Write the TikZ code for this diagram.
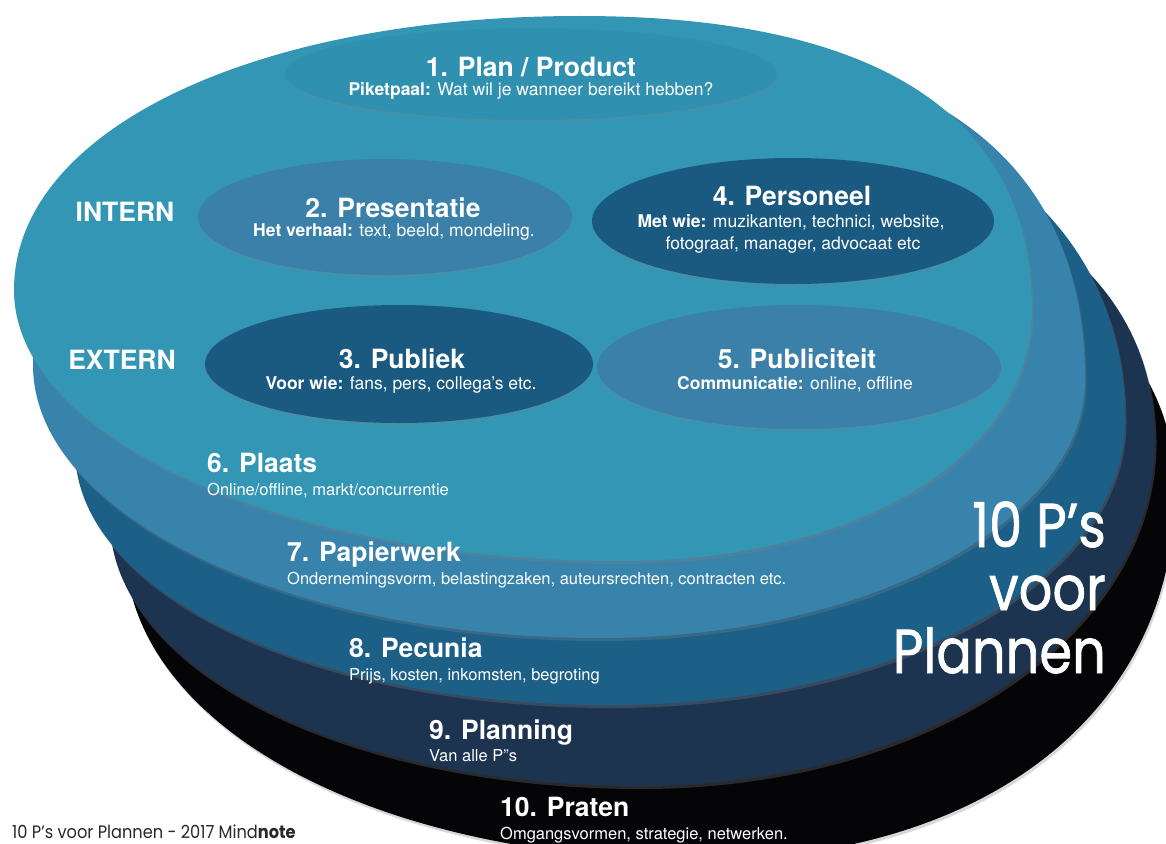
\documentclass[tikz,border=0pt]{standalone}
\usepackage{fontspec}
\setmainfont{TeX Gyre Heros}
\newfontfamily\futura{Poppins}
\newfontfamily\futurabig{Poppins}[FakeBold=1.2]
\usetikzlibrary{shapes.geometric,shadows}
\definecolor{layA}{RGB}{52,150,181}
\definecolor{layB}{RGB}{56,131,172}
\definecolor{layC}{RGB}{28,96,136}
\definecolor{layD}{RGB}{29,52,80}
\definecolor{layE}{RGB}{5,5,8}
\definecolor{midblob}{RGB}{58,128,169}
\definecolor{darkblob}{RGB}{26,90,128}
\definecolor{topblob}{RGB}{48,144,176}
\definecolor{foot}{RGB}{40,40,40}
\tikzset{
  layer/.style={draw=none, drop shadow={opacity=0.3, shadow xshift=1.5pt, shadow yshift=-3pt}},
  blob/.style={ellipse, draw=none, inner sep=0, drop shadow={opacity=0.25, shadow xshift=0pt, shadow yshift=-2pt}},
  ttl/.style={text=white, font=\bfseries\fontsize{26.5}{30}\selectfont, inner sep=0},
  isub/.style={text=white, font=\fontsize{17.5}{22}\selectfont, inner sep=0},
  osub/.style={text=white, font=\fontsize{16.5}{20}\selectfont, inner sep=0},
  side/.style={text=white, font=\bfseries\fontsize{26.5}{30}\selectfont, inner sep=0},
  big/.style={text=white, font=\futurabig\fontsize{62}{63}\selectfont, inner sep=0},
}
\begin{document}
\begin{tikzpicture}[x=1pt,y=-1pt]
\useasboundingbox (0,0) rectangle (1166,843);
\fill[white] (0,0) rectangle (1166,843);
\begin{scope}
\clip (0,0) rectangle (1166,843);
% stacked layers (bottom to top)
\fill[layE, layer] (125,545) .. controls (125,366.3) and (406.3,220) .. (750,220)
  .. controls (1013.5,220) and (1175,322.6) .. (1175,490)
  .. controls (1175,712) and (985,860) .. (700,860)
  .. controls (372.2,860) and (125,724.6) .. (125,545) -- cycle;
\fill[layD, layer] (110,520) .. controls (110,312.8) and (369.6,150) .. (700,150)
  .. controls (982.1,150) and (1155,260.2) .. (1155,440)
  .. controls (1155,633.8) and (928.4,786) .. (640,786)
  .. controls (343.2,786) and (110,669) .. (110,520) -- cycle;
\fill[layC, layer] (75,450) .. controls (75,242.8) and (328,80) .. (650,80)
  .. controls (944.5,80) and (1125,209.2) .. (1125,420)
  .. controls (1125,579.6) and (898.4,705) .. (610,705)
  .. controls (310.4,705) and (75,592.8) .. (75,450) -- cycle;
\fill[layB, layer] (33,365) .. controls (33,186.2) and (297.1,40) .. (620,40)
  .. controls (926.9,40) and (1085,155.6) .. (1085,380)
  .. controls (1085,521.9) and (866.8,638) .. (600,638)
  .. controls (288.1,638) and (33,515.2) .. (33,365) -- cycle;
\fill[layA, layer] (14,290) .. controls (14,131.1) and (251.7,16) .. (580,16)
  .. controls (878.3,16) and (1032,116) .. (1032,310)
  .. controls (1032,455.6) and (859,561) .. (620,561)
  .. controls (286.7,561) and (14,439) .. (14,290) -- cycle;
\end{scope}
% inner ellipses
\node[blob, fill=topblob, minimum width=492pt, minimum height=92pt] (e1) at (531,74) {};
\node[blob, fill=midblob, minimum width=374pt, minimum height=116pt] (e2) at (385,217) {};
\node[blob, fill=darkblob, minimum width=402pt, minimum height=126pt] (e4) at (793,221) {};
\node[blob, fill=darkblob, minimum width=388pt, minimum height=118pt] (e3) at (399,364) {};
\node[blob, fill=midblob, minimum width=404pt, minimum height=124pt] (e5) at (799,367) {};
% texts
\node[ttl, anchor=base] (t1) at (531,76) {1. Plan / Product};
\node[isub, anchor=base] (s1) at (531,95) {\textbf{Piketpaal:} Wat wil je wanneer bereikt hebben?};
\node[side, anchor=base] (intern) at (125,221) {INTERN};
\node[side, anchor=base] (extern) at (122,369) {EXTERN};
\node[ttl, anchor=base] (t2) at (393,217) {2. Presentatie};
\node[isub, anchor=base] (s2) at (394,236) {\textbf{Het verhaal:} text, beeld, mondeling.};
\node[ttl, anchor=base] (t4) at (792,205) {4. Personeel};
\node[isub, anchor=base] (s4a) at (791,227) {\textbf{Met wie:} muzikanten, technici, website,};
\node[isub, anchor=base] (s4b) at (793,249) {fotograaf, manager, advocaat etc};
\node[ttl, anchor=base] (t3) at (402,368) {3. Publiek};
\node[isub, anchor=base] (s3) at (401,389) {\textbf{Voor wie:} fans, pers, collega’s etc.};
\node[ttl, anchor=base] (t5) at (797,368) {5. Publiciteit};
\node[isub, anchor=base] (s5) at (795,389) {\textbf{Communicatie:} online, offline};
\node[ttl, anchor=base west] (t6) at (207,472) {6. Plaats};
\node[osub, anchor=base west] (s6) at (207,495) {Online/offline, markt/concurrentie};
\node[ttl, anchor=base west] (t7) at (287,561) {7. Papierwerk};
\node[osub, anchor=base west] (s7) at (287,584) {Ondernemingsvorm, belastingzaken, auteursrechten, contracten etc.};
\node[ttl, anchor=base west] (t8) at (349,657) {8. Pecunia};
\node[osub, anchor=base west] (s8) at (349,680) {Prijs, kosten, inkomsten, begroting};
\node[ttl, anchor=base west] (t9) at (429,739) {9. Planning};
\node[osub, anchor=base west] (s9) at (429,761) {Van alle P''s};
\node[ttl, anchor=base west] (t10) at (500,816) {10. Praten};
\node[osub, anchor=base west] (s10) at (500,839) {Omgangsvormen, strategie, netwerken.};
% big title
\node[big, anchor=base east] (b1) at (1106,547) {\scalebox{0.85}[1]{10 P’s}};
\node[big, anchor=base east] (b2) at (1106,610) {\scalebox{0.85}[1]{voor}};
\node[big, anchor=base east] (b3) at (1106,673) {\scalebox{0.85}[1]{Plannen}};
% footer
\node[text=foot, font=\futura\fontsize{18}{20}\selectfont, anchor=base west, inner sep=0] (ft) at (12,838) {\scalebox{0.9}[1]{10 P’s voor Plannen - 2017 Mind\textbf{note}}};
\end{tikzpicture}
\end{document}
